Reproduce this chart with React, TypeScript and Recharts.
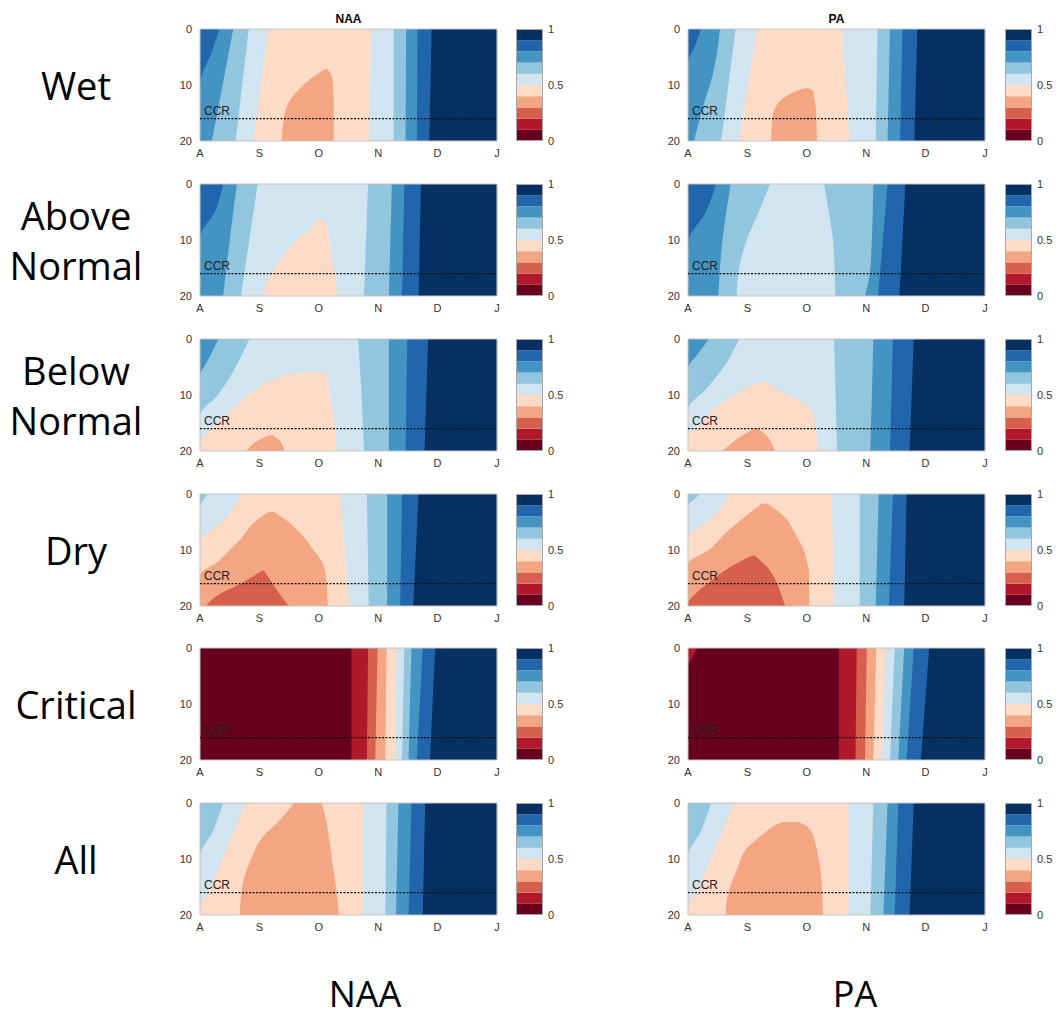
import { ComposedChart, Area, XAxis, YAxis, ReferenceLine, ReferenceArea, BarChart, Bar } from 'recharts'

// contour levels 0..1 in steps of 0.1 (RdBu)
const LEVEL_COLORS = ['#67001f', '#b2182b', '#d6604d', '#f4a582', '#fddbc7', '#d1e5f0', '#92c5de', '#4393c3', '#2166ac', '#053061']
const CB_LEVELS = [0, 0.1, 0.2, 0.3, 0.4, 0.5, 0.6, 0.7, 0.8, 0.9, 1]
const CB_TICKS = [0, 0.5, 1]
const MONTHS = ['A', 'S', 'O', 'N', 'D', 'J']
const MONTH_TICKS = [0, 1, 2, 3, 4, 5]
const DEPTH_TICKS = [0, 10, 20]
const CCR_DEPTH = 16
const ROW_NAMES = ['Wet', 'Above\nNormal', 'Below\nNormal', 'Dry', 'Critical', 'All']
const COL_NAMES = ['NAA', 'PA']

type Band = { lvl: number; edge: number[][] }      // edge: [depth, x] = right boundary of the band
type Island = { lvl: number; edge: number[][] }    // edge: [depth, left, right]

// ---- Wet
const wetNaa: Band[] = [
  { lvl: 8, edge: [[0, 0.33], [4, 0.2], [10, 0], [20, 0]] },
  { lvl: 7, edge: [[0, 0.56], [10, 0.38], [20, 0.2]] },
  { lvl: 6, edge: [[0, 0.82], [20, 0.6]] },
  { lvl: 5, edge: [[0, 1.15], [20, 0.9]] },
  { lvl: 4, edge: [[0, 2.88], [20, 2.84]] },
  { lvl: 5, edge: [[0, 3.26], [20, 3.26]] },
  { lvl: 6, edge: [[0, 3.47], [20, 3.46]] },
  { lvl: 7, edge: [[0, 3.66], [20, 3.65]] },
  { lvl: 8, edge: [[0, 3.9], [20, 3.86]] },
  { lvl: 9, edge: [[0, 5], [20, 5]] },
]
const wetNaaIsl: Island[] = [
  { lvl: 3, edge: [[7.2, 2.1, 2.15], [8, 1.98, 2.2], [10, 1.74, 2.24], [13, 1.5, 2.25], [16, 1.41, 2.25], [20, 1.38, 2.25]] },
]
const wetPa: Band[] = [
  { lvl: 8, edge: [[0, 0.22], [3, 0.12], [6, 0], [20, 0]] },
  { lvl: 7, edge: [[0, 0.54], [8, 0.42], [14, 0.25], [20, 0.1]] },
  { lvl: 6, edge: [[0, 0.8], [20, 0.56]] },
  { lvl: 5, edge: [[0, 1.16], [20, 0.86]] },
  { lvl: 4, edge: [[0, 2.59], [10, 2.66], [20, 2.72]] },
  { lvl: 5, edge: [[0, 3.19], [20, 3.16]] },
  { lvl: 6, edge: [[0, 3.4], [20, 3.36]] },
  { lvl: 7, edge: [[0, 3.61], [20, 3.57]] },
  { lvl: 8, edge: [[0, 3.86], [20, 3.81]] },
  { lvl: 9, edge: [[0, 5], [20, 5]] },
]
const wetPaIsl: Island[] = [
  { lvl: 3, edge: [[10.6, 1.96, 2.02], [11, 1.85, 2.1], [12, 1.65, 2.12], [14, 1.47, 2.15], [16, 1.42, 2.16], [20, 1.4, 2.17]] },
]

// ---- Above Normal
const anNaa: Band[] = [
  { lvl: 8, edge: [[0, 0.39], [5, 0.25], [9.5, 0], [20, 0]] },
  { lvl: 7, edge: [[0, 0.62], [10, 0.5], [20, 0.39]] },
  { lvl: 6, edge: [[0, 0.97], [20, 0.69]] },
  { lvl: 5, edge: [[0, 2.83], [20, 2.76]] },
  { lvl: 6, edge: [[0, 3.23], [20, 3.18]] },
  { lvl: 7, edge: [[0, 3.44], [20, 3.4]] },
  { lvl: 8, edge: [[0, 3.72], [20, 3.68]] },
  { lvl: 9, edge: [[0, 5], [20, 5]] },
]
const anNaaIsl: Island[] = [
  { lvl: 4, edge: [[6.3, 2.0, 2.08], [7, 1.93, 2.13], [8, 1.86, 2.15], [10, 1.63, 2.18], [13, 1.39, 2.22], [16, 1.2, 2.27], [20, 1.06, 2.31]] },
]
const anPa: Band[] = [
  { lvl: 8, edge: [[0, 0.47], [5, 0.3], [10.5, 0], [20, 0]] },
  { lvl: 7, edge: [[0, 0.72], [10, 0.58], [20, 0.51]] },
  { lvl: 6, edge: [[0, 1.38], [5, 1.19], [10, 0.99], [15, 0.86], [20, 0.82]] },
  { lvl: 5, edge: [[0, 2.29], [5, 2.37], [10, 2.44], [20, 2.48]] },
  { lvl: 6, edge: [[0, 3.12], [15, 3.07], [20, 2.98]] },
  { lvl: 7, edge: [[0, 3.36], [20, 3.2]] },
  { lvl: 8, edge: [[0, 3.66], [20, 3.56]] },
  { lvl: 9, edge: [[0, 5], [20, 5]] },
]
const anPaIsl: Island[] = []

// ---- Below Normal
const bnNaa: Band[] = [
  { lvl: 7, edge: [[0, 0.31], [3.5, 0.15], [6.8, 0], [20, 0]] },
  { lvl: 6, edge: [[0, 0.83], [5, 0.6], [10, 0.3], [13.7, 0], [20, 0]] },
  { lvl: 5, edge: [[0, 2.66], [10, 2.72], [20, 2.76]] },
  { lvl: 6, edge: [[0, 3.18], [20, 3.18]] },
  { lvl: 7, edge: [[0, 3.49], [20, 3.46]] },
  { lvl: 8, edge: [[0, 3.84], [20, 3.78]] },
  { lvl: 9, edge: [[0, 5], [20, 5]] },
]
const bnNaaIsl: Island[] = [
  { lvl: 4, edge: [[5.9, 1.75, 2.08], [6.3, 1.5, 2.12], [7.1, 1.25, 2.14], [9.5, 0.88, 2.18], [12.5, 0.55, 2.23], [15.4, 0.26, 2.27], [18.7, 0, 2.29], [20, 0, 2.31]] },
  { lvl: 3, edge: [[17.2, 1.17, 1.22], [18, 1.0, 1.33], [20, 0.78, 1.42]] },
]
const bnPa: Band[] = [
  { lvl: 7, edge: [[0, 0.35], [2.5, 0.18], [5.3, 0], [20, 0]] },
  { lvl: 6, edge: [[0, 0.86], [5, 0.6], [9, 0.3], [12.5, 0], [20, 0]] },
  { lvl: 5, edge: [[0, 2.46], [20, 2.51]] },
  { lvl: 6, edge: [[0, 3.12], [20, 3.07]] },
  { lvl: 7, edge: [[0, 3.45], [20, 3.4]] },
  { lvl: 8, edge: [[0, 3.8], [20, 3.73]] },
  { lvl: 9, edge: [[0, 5], [20, 5]] },
]
const bnPaIsl: Island[] = [
  { lvl: 4, edge: [[7.7, 1.2, 1.3], [8.5, 1.02, 1.45], [9.5, 0.85, 1.57], [11, 0.62, 1.9], [13, 0.38, 2.09], [15, 0.21, 2.14], [17.5, 0, 2.17], [20, 0, 2.18]] },
  { lvl: 3, edge: [[16, 1.13, 1.17], [17, 0.95, 1.3], [18.5, 0.75, 1.4], [20, 0.58, 1.46]] },
]

// ---- Dry
const dryNaa: Band[] = [
  { lvl: 6, edge: [[0, 0.12], [1, 0.06], [2.3, 0], [20, 0]] },
  { lvl: 5, edge: [[0, 0.71], [4, 0.45], [8.9, 0], [20, 0]] },
  { lvl: 4, edge: [[0, 2.36], [20, 2.52]] },
  { lvl: 5, edge: [[0, 2.81], [20, 2.84]] },
  { lvl: 6, edge: [[0, 3.15], [20, 3.15]] },
  { lvl: 7, edge: [[0, 3.4], [20, 3.37]] },
  { lvl: 8, edge: [[0, 3.68], [20, 3.59]] },
  { lvl: 9, edge: [[0, 5], [20, 5]] },
]
const dryNaaIsl: Island[] = [
  { lvl: 3, edge: [[3.2, 1.15, 1.25], [5, 0.92, 1.49], [8, 0.69, 1.77], [10, 0.5, 1.91], [12, 0.31, 2.05], [14.5, 0, 2.12], [20, 0, 2.15]] },
  { lvl: 2, edge: [[13.7, 1.04, 1.08], [15, 0.85, 1.16], [16, 0.69, 1.22], [18, 0.31, 1.35], [20, 0.1, 1.49]] },
]
const dryPa: Band[] = [
  { lvl: 6, edge: [[0, 0.2], [1, 0.1], [2, 0], [20, 0]] },
  { lvl: 5, edge: [[0, 0.72], [4, 0.42], [7.7, 0], [20, 0]] },
  { lvl: 4, edge: [[0, 2.42], [20, 2.46]] },
  { lvl: 5, edge: [[0, 2.89], [20, 2.89]] },
  { lvl: 6, edge: [[0, 3.21], [20, 3.16]] },
  { lvl: 7, edge: [[0, 3.45], [20, 3.38]] },
  { lvl: 8, edge: [[0, 3.68], [20, 3.64]] },
  { lvl: 9, edge: [[0, 5], [20, 5]] },
]
const dryPaIsl: Island[] = [
  { lvl: 3, edge: [[1.7, 1.25, 1.33], [4, 0.96, 1.62], [7, 0.63, 1.8], [10, 0.35, 1.95], [12.5, 0, 2.01], [14, 0, 2.04], [20, 0, 2.04]] },
  { lvl: 2, edge: [[11, 1.08, 1.12], [13, 0.72, 1.33], [15.5, 0.39, 1.48], [18, 0.11, 1.57], [19.5, 0, 1.62], [20, 0, 1.64]] },
]

// ---- Critical
const critNaa: Band[] = [
  { lvl: 0, edge: [[0, 2.55], [20, 2.55]] },
  { lvl: 1, edge: [[0, 2.83], [20, 2.81]] },
  { lvl: 2, edge: [[0, 2.99], [20, 2.95]] },
  { lvl: 3, edge: [[0, 3.14], [20, 3.12]] },
  { lvl: 4, edge: [[0, 3.31], [20, 3.28]] },
  { lvl: 5, edge: [[0, 3.44], [20, 3.4]] },
  { lvl: 6, edge: [[0, 3.56], [20, 3.51]] },
  { lvl: 7, edge: [[0, 3.75], [20, 3.65]] },
  { lvl: 8, edge: [[0, 3.96], [20, 3.87]] },
  { lvl: 9, edge: [[0, 5], [20, 5]] },
]
const critNaaIsl: Island[] = []
const critPa: Band[] = [
  { lvl: 1, edge: [[0, 0.16], [1.5, 0.08], [3.5, 0], [20, 0]] },
  { lvl: 0, edge: [[0, 2.54], [20, 2.54]] },
  { lvl: 1, edge: [[0, 2.84], [20, 2.82]] },
  { lvl: 2, edge: [[0, 3.01], [20, 2.98]] },
  { lvl: 3, edge: [[0, 3.17], [20, 3.12]] },
  { lvl: 4, edge: [[0, 3.33], [20, 3.26]] },
  { lvl: 5, edge: [[0, 3.48], [20, 3.4]] },
  { lvl: 6, edge: [[0, 3.64], [20, 3.54]] },
  { lvl: 7, edge: [[0, 3.8], [20, 3.68]] },
  { lvl: 8, edge: [[0, 4.06], [20, 3.92]] },
  { lvl: 9, edge: [[0, 5], [20, 5]] },
]
const critPaIsl: Island[] = []

// ---- All
const allNaa: Band[] = [
  { lvl: 6, edge: [[0, 0.39], [5, 0.22], [9.5, 0], [20, 0]] },
  { lvl: 5, edge: [[0, 0.76], [5, 0.58], [10, 0.38], [15, 0.18], [19, 0], [20, 0]] },
  { lvl: 4, edge: [[0, 2.76], [20, 2.76]] },
  { lvl: 5, edge: [[0, 3.14], [20, 3.12]] },
  { lvl: 6, edge: [[0, 3.34], [20, 3.3]] },
  { lvl: 7, edge: [[0, 3.56], [20, 3.51]] },
  { lvl: 8, edge: [[0, 3.79], [20, 3.75]] },
  { lvl: 9, edge: [[0, 5], [20, 5]] },
]
const allNaaIsl: Island[] = [
  { lvl: 3, edge: [[0, 1.58, 2.05], [3, 1.35, 2.12], [6, 1.06, 2.17], [10, 0.86, 2.22], [15, 0.71, 2.29], [20, 0.67, 2.34]] },
]
const allPa: Band[] = [
  { lvl: 6, edge: [[0, 0.39], [5, 0.22], [9.5, 0], [20, 0]] },
  { lvl: 5, edge: [[0, 0.77], [5, 0.58], [10, 0.38], [15, 0.18], [19, 0], [20, 0]] },
  { lvl: 4, edge: [[0, 2.7], [20, 2.7]] },
  { lvl: 5, edge: [[0, 3.12], [20, 3.07]] },
  { lvl: 6, edge: [[0, 3.36], [20, 3.29]] },
  { lvl: 7, edge: [[0, 3.54], [20, 3.48]] },
  { lvl: 8, edge: [[0, 3.8], [20, 3.73]] },
  { lvl: 9, edge: [[0, 5], [20, 5]] },
]
const allPaIsl: Island[] = [
  { lvl: 3, edge: [[3.4, 1.6, 1.85], [4, 1.45, 1.98], [5, 1.33, 2.07], [8, 1.0, 2.16], [12, 0.82, 2.23], [16, 0.68, 2.26], [20, 0.63, 2.27]] },
]

const PANELS: [Band[], Island[]][][] = [
  [[wetNaa, wetNaaIsl], [wetPa, wetPaIsl]],
  [[anNaa, anNaaIsl], [anPa, anPaIsl]],
  [[bnNaa, bnNaaIsl], [bnPa, bnPaIsl]],
  [[dryNaa, dryNaaIsl], [dryPa, dryPaIsl]],
  [[critNaa, critNaaIsl], [critPa, critPaIsl]],
  [[allNaa, allNaaIsl], [allPa, allPaIsl]],
]

// layout
const ROW_TOPS = [29, 184, 339, 494, 648, 803]
const COL_LEFTS = [200, 688]
const CB_LEFTS = [516, 1005]
const PW = 297
const PH = 112
const YW = 40
const MT = 6
const XH = 26
const TICK_FONT = '"Liberation Sans", Arial, sans-serif'
const TEXT_FONT = '"Open Sans", sans-serif'

const tickStyle = { fontSize: 11, fill: '#333', fontFamily: TICK_FONT }

const Panel = ({ bands, islands, left, top }: { bands: Band[]; islands: Island[]; left: number; top: number }) => {
  const painted = [...bands].reverse()
  return (
    <div style={{ position: 'absolute', left: left - YW, top: top - MT }}>
      <ComposedChart layout="vertical" width={YW + PW + 8} height={MT + PH + XH}
        margin={{ top: MT, right: 8, bottom: 0, left: 0 }}>
        <XAxis type="number" domain={[0, 5]} ticks={MONTH_TICKS} allowDataOverflow
          tickFormatter={(v: number) => MONTHS[v]} tick={tickStyle} tickLine={false}
          axisLine={false} height={XH} interval={0} />
        <YAxis type="number" dataKey="d" domain={[0, 20]} ticks={DEPTH_TICKS} allowDataOverflow
          tick={tickStyle} tickLine={false} axisLine={false} width={YW} interval={0} />
        {painted.map((b, i) => (
          <Area key={'b' + i} data={b.edge.map(([d, x]) => ({ d, x }))} dataKey="x" type="monotone"
            fill={LEVEL_COLORS[b.lvl]} fillOpacity={1} stroke="none" dot={false} activeDot={false}
            isAnimationActive={false} />
        ))}
        {islands.map((b, i) => (
          <Area key={'i' + i} data={b.edge.map(([d, lo, hi]) => ({ d, x: [lo, hi] }))} dataKey="x" type="monotone"
            fill={LEVEL_COLORS[b.lvl]} fillOpacity={1} stroke="none" dot={false} activeDot={false}
            isAnimationActive={false} />
        ))}
        <ReferenceLine y={CCR_DEPTH} stroke="#111" strokeWidth={1.3} strokeDasharray="2 1.5"
          label={{ value: 'CCR', position: 'insideBottomLeft', offset: 4, fontSize: 12, fill: '#222', fontFamily: TICK_FONT }} />
        <ReferenceArea x1={0} x2={5} y1={0} y2={20} fill="none" stroke="#c4c4c4" strokeWidth={1} fillOpacity={0} />
      </ComposedChart>
    </div>
  )
}

const cbRow = [Object.fromEntries(CB_LEVELS.slice(1).map((v, i) => ['l' + i, +(v - CB_LEVELS[i]).toFixed(2)]))]

const ColorBar = ({ left, top }: { left: number; top: number }) => (
  <div style={{ position: 'absolute', left, top: top - MT }}>
    <BarChart width={27 + 30} height={PH + 2 * MT} data={cbRow} barCategoryGap={0}
      margin={{ top: MT, right: 0, bottom: MT, left: 0 }}>
      <XAxis hide />
      <YAxis orientation="right" type="number" domain={[0, 1]} ticks={CB_TICKS} width={30}
        tick={tickStyle} tickLine={false} axisLine={false} tickSize={3} interval={0} />
      {LEVEL_COLORS.map((c, i) => (
        <Bar key={i} dataKey={'l' + i} stackId="cb" fill={c} isAnimationActive={false} />
      ))}
    </BarChart>
    <div style={{ position: 'absolute', left: 0, top: MT, width: 27, height: PH, border: '1px solid #a8a8a8', boxSizing: 'border-box' }} />
  </div>
)

export default function App() {
  return (
    <div style={{ position: 'absolute', left: 0, top: 0, width: 1057, height: 1023, background: '#fff', overflow: 'hidden' }}>
      {COL_NAMES.map((n, c) => (
        <div key={n} style={{ position: 'absolute', left: COL_LEFTS[c], width: PW, top: 11, textAlign: 'center',
          fontFamily: TICK_FONT, fontWeight: 'bold', fontSize: 12, lineHeight: '16px' }}>{n}</div>
      ))}
      {ROW_NAMES.map((name, r) => {
        const lines = name.split('\n')
        const h = lines.length * 50
        return (
          <div key={name} style={{ position: 'absolute', left: 0, width: 152, top: ROW_TOPS[r] + PH / 2 - h / 2,
            textAlign: 'center', fontFamily: TEXT_FONT, fontSize: 38, lineHeight: '50px', color: '#000' }}>
            {lines.map((l) => <div key={l}>{l}</div>)}
          </div>
        )
      })}
      {PANELS.map((row, r) => row.map(([bands, islands], c) => (
        <div key={r + '-' + c}>
          <Panel bands={bands} islands={islands} left={COL_LEFTS[c]} top={ROW_TOPS[r]} />
          <ColorBar left={CB_LEFTS[c]} top={ROW_TOPS[r]} />
        </div>
      )))}
      {COL_NAMES.map((n, c) => (
        <div key={'b' + n} style={{ position: 'absolute', left: [365, 855][c] - 100, width: 200, top: 974,
          textAlign: 'center', fontFamily: TEXT_FONT, fontSize: 36, lineHeight: '40px' }}>{n}</div>
      ))}
    </div>
  )
}
